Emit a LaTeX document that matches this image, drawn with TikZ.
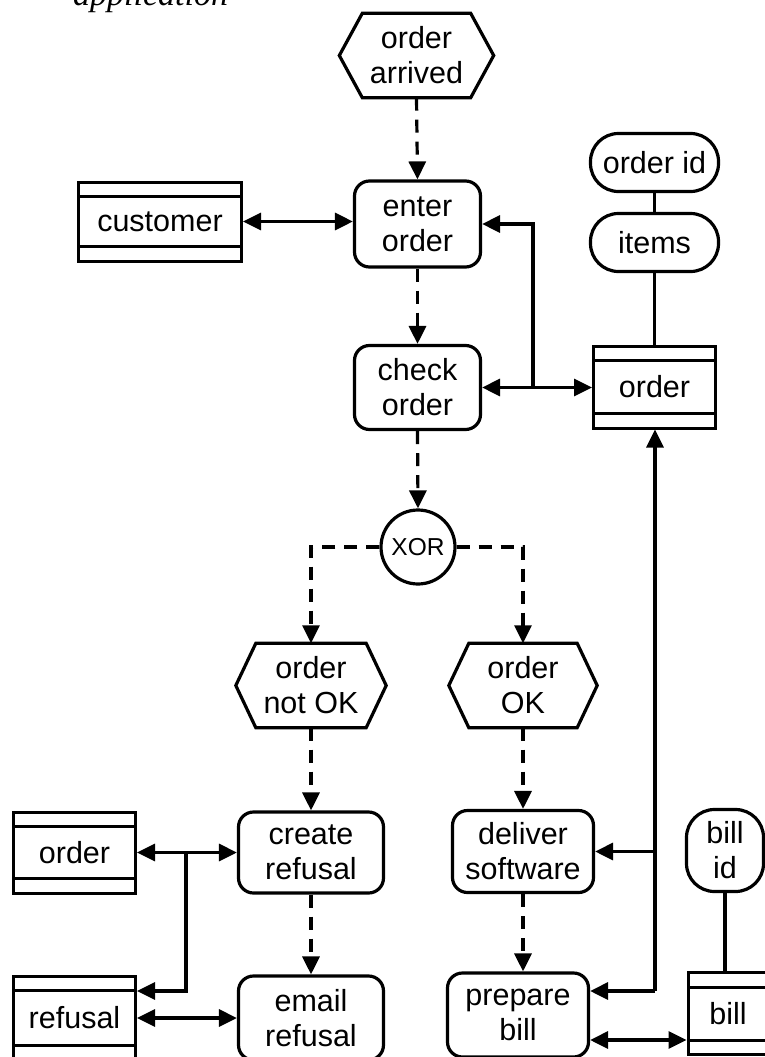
\documentclass[tikz,border=0pt]{standalone}
\usepackage{fontspec}
\setmainfont{Liberation Sans}
\newfontfamily\titlefont{Liberation Serif}
\usetikzlibrary{arrows.meta}
\newcommand\hexdraw[2]{%
  \draw[line width=3.2pt, line join=miter] ([xshift=#2]#1.north west) -- ([xshift=-#2]#1.north east) -- (#1.east) -- ([xshift=-#2]#1.south east) -- ([xshift=#2]#1.south west) -- (#1.west) -- cycle;}
\begin{document}
\begin{tikzpicture}[x=1pt,y=-1pt,
  every node/.style={inner sep=0pt, align=center, font=\fontsize{30.5}{35}\selectfont},
  func/.style={draw, line width=3.2pt, rounded corners=15pt, minimum height=84pt},
  event/.style={draw=none, minimum height=84pt},
  attr/.style={draw, line width=3.2pt, rounded corners=28pt},
  entity/.style={draw, line width=3pt, minimum width=122pt, minimum height=82pt,
    path picture={\draw[line width=3pt]
      ([yshift=-14.5pt]path picture bounding box.north west) -- ([yshift=-14.5pt]path picture bounding box.north east)
      ([yshift=14.5pt]path picture bounding box.south west) -- ([yshift=14.5pt]path picture bounding box.south east);}},
  conn/.style={line width=3.2pt},
  arr/.style={conn, -{Triangle[length=18pt,width=17pt]}},
  biarr/.style={conn, {Triangle[length=18pt,width=17pt]}-{Triangle[length=18pt,width=17pt]}},
  flow/.style={arr, dash pattern=on 13pt off 9pt}]
\useasboundingbox (0,0) rectangle (765,1057);
\clip (0,0) rectangle (765,1057);

\node[anchor=base west, font=\titlefont\itshape\fontsize{34}{40}\selectfont] (title) at (73,5.5) {application};

% events
\node[event, minimum width=154pt] (arrived) at (416.5,55.5) {order\\arrived};
\hexdraw{arrived}{23pt}
\node[event, minimum width=150pt] (notok) at (311,685.5) {order\\not OK};
\hexdraw{notok}{20pt}
\node[event, minimum width=148pt] (ok) at (523,685.5) {order\\OK};
\hexdraw{ok}{20pt}

% functions
\node[func, minimum width=126pt, minimum height=86pt] (enter) at (417.5,224) {enter\\order};
\node[func, minimum width=126pt] (check) at (417.5,387.5) {check\\order};
\node[func, minimum width=145pt, minimum height=81pt] (create) at (311,852.5) {create\\refusal};
\node[func, minimum width=145pt] (email) at (311,1018) {email\\refusal};
\node[func, minimum width=141pt, minimum height=82pt] (deliver) at (523,851.5) {deliver\\software};
\node[func, minimum width=141pt] (prepare) at (518,1015) {prepare\\bill};

% XOR
\node[draw, circle, line width=3.2pt, minimum size=74pt, font=\fontsize{24.5}{28}\selectfont] (xor) at (418,547) {XOR};

% entities
\node[entity, minimum width=163pt, minimum height=79pt] (customer) at (160,221.5) {customer};
\node[entity] (order) at (654.5,387) {order};
\node[entity, minimum height=81pt] (order2) at (74.5,852.5) {order};
\node[entity, minimum height=84pt] (refusal) at (74.5,1018) {refusal};
\node[entity, minimum width=80pt] (bill) at (728,1013.5) {bill};

% attributes
\node[attr, minimum width=128pt, minimum height=58pt] (orderid) at (654.5,162.5) {order id};
\node[attr, minimum width=128pt, minimum height=58pt] (items) at (654.5,242.5) {items};
\node[attr, minimum width=77pt, minimum height=82pt] (billid) at (725,850.5) {bill\\id};

% helper coordinates
\coordinate (j1) at (533,387);
\coordinate (j2) at (655,991);
\coordinate (j3) at (186,853);
\coordinate (yb) at (0,1040);
\coordinate (yr) at (0,991);

% control flow
\draw[flow] (arrived.south) -- (enter.north);
\draw[flow] (enter.south) -- (check.north);
\draw[flow] (check.south) -- (xor.north);
\draw[flow] (xor.west) -| (notok.north);
\draw[flow] (xor.east) -| (ok.north);
\draw[flow] (notok.south) -- (create.north);
\draw[flow] (create.south) -- (email.north);
\draw[flow] (ok.south) -- (deliver.north);
\draw[flow] (deliver.south) -- (deliver.south |- prepare.north);

% data links
\draw[biarr] (customer.east) -- (customer.east -| enter.west);
\draw[biarr] (check.east) -- (check.east -| order.west);
\draw[arr] (j1) |- (enter.east);
\draw[conn] (orderid.south) -- (items.north);
\draw[conn] (items.south) -- (order.north);
\draw[arr] (j2) -- (j2 |- order.south);
\draw[arr] (j2) -- (j2 -| prepare.east);
\draw[arr] (j2 |- deliver.east) -- (deliver.east);
\draw[conn] (billid.south) -- (billid.south |- bill.north);
\draw[biarr] (prepare.east |- yb) -- (bill.west |- yb);
\draw[biarr] (order2.east) -- (order2.east -| create.west);
\draw[arr] (j3) |- (refusal.east |- yr);
\draw[biarr] (refusal.east) -- (refusal.east -| email.west);
\end{tikzpicture}
\end{document}
